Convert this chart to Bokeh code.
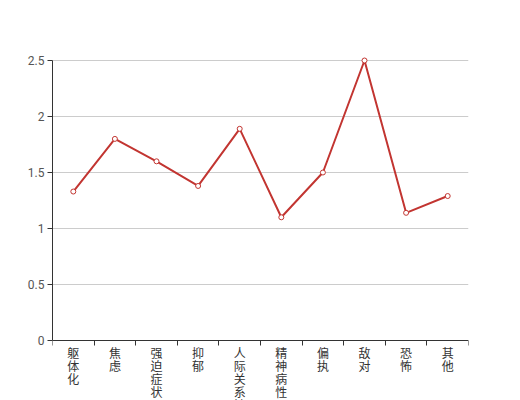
from bokeh.plotting import figure
from bokeh.models import ColumnDataSource, FixedTicker, Range1d
from bokeh.embed import file_html
from bokeh.resources import INLINE

categories = ["躯体化", "焦虑", "强迫症状", "抑郁", "人际关系敏感",
              "精神病性", "偏执", "敌对", "恐怖", "其他"]
values = [1.33, 1.80, 1.60, 1.38, 1.89, 1.10, 1.50, 2.50, 1.14, 1.29]
y_ticks = [0, 0.5, 1, 1.5, 2, 2.5]
y_tick_labels = ["0", "0.5", "1", "1.5", "2", "2.5"]

n = len(categories)
xs = [i + 0.5 for i in range(n)]

# layout: value axis 0..2.5 spans 280 px; frame extends below for labels
y_max = y_ticks[-1]
px_per_unit = 280 / y_max
top_pad_px = 4
below_px = 60
y_range = Range1d(-below_px / px_per_unit, y_max + top_pad_px / px_per_unit)

p = figure(width=520, height=400, output_backend="svg", toolbar_location=None,
           x_range=Range1d(0, n), y_range=y_range,
           min_border_left=52, min_border_right=52,
           min_border_top=60 - top_pad_px, min_border_bottom=0)
p.outline_line_color = None
p.background_fill_color = "white"
p.border_fill_color = "white"

# y axis
p.yaxis.ticker = FixedTicker(ticks=y_ticks)
p.yaxis.bounds = (0, y_max)
p.yaxis.major_label_overrides = {t: l for t, l in zip(y_ticks, y_tick_labels)}
p.yaxis.axis_line_color = "#333333"
p.yaxis.major_tick_line_color = "#333333"
p.yaxis.major_tick_out = 5
p.yaxis.major_tick_in = 0
p.yaxis.minor_tick_line_color = None
p.yaxis.major_label_text_font = "Roboto"
p.yaxis.major_label_text_font_size = "12px"
p.yaxis.major_label_text_color = "#555555"
p.yaxis.major_label_standoff = 3

# x axis at value 0, ticks at category boundaries
p.xaxis.fixed_location = 0
p.xaxis.ticker = FixedTicker(ticks=[], minor_ticks=list(range(n + 1)))
p.xaxis.axis_line_color = "#333333"
p.xaxis.minor_tick_line_color = "#333333"
p.xaxis.minor_tick_out = 5
p.xaxis.minor_tick_in = 0
p.xaxis.major_tick_line_color = None
p.xaxis.major_label_text_font_size = "0px"

p.xgrid.grid_line_color = None
p.ygrid.ticker = FixedTicker(ticks=y_ticks[1:])
p.ygrid.grid_line_color = "#cccccc"
p.ygrid.grid_line_width = 1

src = ColumnDataSource(dict(x=xs, y=values))
p.line("x", "y", source=src, line_color="#c23531", line_width=2)
p.scatter("x", "y", source=src, size=5, marker="circle",
          fill_color="white", line_color="#c23531", line_width=1)

# vertical category labels, one character per row
lx, ly, lt = [], [], []
for x, c in zip(xs, categories):
    for k, ch in enumerate(c):
        lx.append(x)
        ly.append(-(3 + 13 * k) / px_per_unit)
        lt.append(ch)
lab_src = ColumnDataSource(dict(x=lx, y=ly, text=lt))
p.text("x", "y", text="text", source=lab_src,
       text_font={"value": "Noto Sans CJK SC"}, text_font_size="12px",
       text_color="#333333", text_align="center", text_baseline="top")

open("out.html", "w").write(file_html(p, INLINE))
